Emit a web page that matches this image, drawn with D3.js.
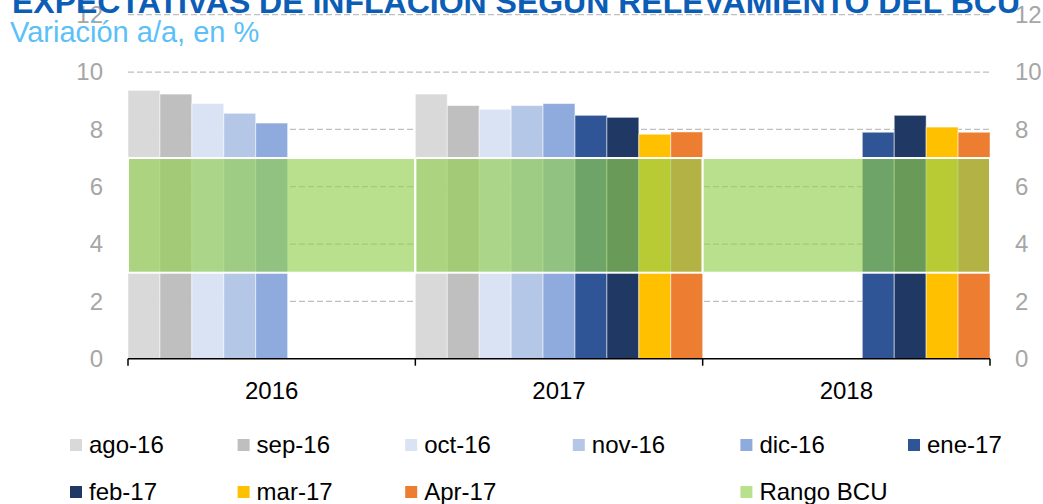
<!DOCTYPE html>
<html>
<head>
<meta charset="utf-8">
<script src="https://cdn.jsdelivr.net/npm/d3@7"></script>
<style>
  body { margin: 0; background: #fff; }
  svg { display: block; font-family: "Liberation Sans", Arial, sans-serif; }
</style>
</head>
<body>
<div id="chart"></div>
<script>
// data
const years = ["2016", "2017", "2018"];
const series = ["ago-16", "sep-16", "oct-16", "nov-16", "dic-16", "ene-17", "feb-17", "mar-17", "Apr-17"];
const values2016 = [9.36, 9.23, 8.90, 8.56, 8.22, null, null, null, null];
const values2017 = [9.23, 8.83, 8.70, 8.83, 8.90, 8.49, 8.42, 7.83, 7.91];
const values2018 = [null, null, null, null, null, 7.90, 8.49, 8.08, 7.90];
const rangoBCU = [3, 7];
const yTicks = [0, 2, 4, 6, 8, 10, 12];

const colors = ["#D9D9D9", "#BFBFBF", "#DAE3F3", "#B4C7E7", "#8FAADC", "#2F5597", "#1F3864", "#FFC000", "#ED7D31"];
const bandColor = "#92D050";

const width = 1043, height = 504;
const margin = { left: 128, right: 53, top: 14.7, bottom: 145.3 };

const svg = d3.select("#chart").append("svg")
  .attr("width", width)
  .attr("height", height);

const x = d3.scaleBand()
  .domain(years)
  .range([margin.left, width - margin.right])
  .padding(0);

const xInner = d3.scaleBand()
  .domain(series)
  .range([0, x.bandwidth()])
  .padding(0);

const y = d3.scaleLinear()
  .domain([0, 12])
  .range([height - margin.bottom, margin.top]);

// gridlines
svg.append("g")
  .selectAll("line")
  .data(yTicks.filter(d => d > 0))
  .join("line")
  .attr("x1", margin.left)
  .attr("x2", width - margin.right)
  .attr("y1", d => y(d))
  .attr("y2", d => y(d))
  .attr("stroke", "#BFBFBF")
  .attr("stroke-width", 1.3)
  .attr("stroke-dasharray", "6,3");

// bars
const rows = [values2016, values2017, values2018];
const barData = [];
years.forEach((yr, gi) => {
  series.forEach((s, si) => {
    if (rows[gi][si] != null) barData.push({ year: yr, series: s, i: si, value: rows[gi][si] });
  });
});

svg.append("g")
  .selectAll("rect")
  .data(barData)
  .join("rect")
  .attr("x", d => x(d.year) + xInner(d.series))
  .attr("y", d => y(d.value))
  .attr("width", xInner.bandwidth())
  .attr("height", d => y(0) - y(d.value))
  .attr("fill", d => colors[d.i])
  .attr("stroke", "#fff")
  .attr("stroke-opacity", 0.5)
  .attr("stroke-width", 1);

// Rango BCU band, drawn over the bars
svg.append("g")
  .selectAll("rect")
  .data(years)
  .join("rect")
  .attr("x", d => x(d))
  .attr("y", y(rangoBCU[1]))
  .attr("width", x.bandwidth())
  .attr("height", y(rangoBCU[0]) - y(rangoBCU[1]))
  .attr("fill", bandColor)
  .attr("fill-opacity", 0.65)
  .attr("stroke", "#fff")
  .attr("stroke-width", 2);

// x axis
const xAxis = svg.append("g")
  .attr("transform", `translate(0,${y(0)})`)
  .call(d3.axisBottom(x).tickSize(0).tickPadding(23));
xAxis.select(".domain").remove();
xAxis.selectAll("text")
  .attr("font-size", 24)
  .attr("font-family", "Liberation Sans, Arial, sans-serif")
  .attr("fill", "#000");

const xEdges = years.map(d => x(d)).concat([x.range()[1]]);
xAxis.append("line")
  .attr("x1", margin.left)
  .attr("x2", width - margin.right)
  .attr("stroke", "#000")
  .attr("stroke-width", 1.5);
xAxis.selectAll(".edge")
  .data(xEdges)
  .join("line")
  .attr("class", "edge")
  .attr("x1", d => d)
  .attr("x2", d => d)
  .attr("y1", 0)
  .attr("y2", 7)
  .attr("stroke", "#000")
  .attr("stroke-width", 1.5);

// left and right y axes
const yLeft = svg.append("g")
  .attr("transform", "translate(103,0)")
  .call(d3.axisLeft(y).tickValues(yTicks).tickSize(0).tickPadding(0));
yLeft.select(".domain").remove();

const yRight = svg.append("g")
  .attr("transform", "translate(1015,0)")
  .call(d3.axisRight(y).tickValues(yTicks).tickSize(0).tickPadding(0));
yRight.select(".domain").remove();

[yLeft, yRight].forEach(g => g.selectAll("text")
  .attr("font-size", 24)
  .attr("font-family", "Liberation Sans, Arial, sans-serif")
  .attr("fill", "#A6A6A6"));

// title + subtitle
svg.append("text")
  .attr("x", 12)
  .attr("y", 13)
  .attr("font-size", 31)
  .attr("font-weight", "bold")
  .attr("fill", "#0B5DB5")
  .attr("textLength", 1008)
  .attr("lengthAdjust", "spacingAndGlyphs")
  .text("EXPECTATIVAS DE INFLACIÓN SEGÚN RELEVAMIENTO DEL BCU");

svg.append("text")
  .attr("x", 10)
  .attr("y", 42)
  .attr("font-size", 29)
  .attr("fill", "#5BC0F8")
  .text("Variación a/a, en %");

// legend
const legendItems = series.map((s, i) => ({ label: s, color: colors[i], col: i % 6, row: Math.floor(i / 6) }))
  .concat([{ label: "Rango BCU", color: "#B8E08D", col: 4, row: 1 }]);

const legend = svg.append("g")
  .selectAll("g")
  .data(legendItems)
  .join("g")
  .attr("transform", d => `translate(${70 + d.col * 167.6},${445 + d.row * 47})`);

legend.append("rect")
  .attr("x", 0)
  .attr("y", -6)
  .attr("width", 12)
  .attr("height", 12)
  .attr("fill", d => d.color);

legend.append("text")
  .attr("x", 19)
  .attr("y", 0)
  .attr("dy", "0.35em")
  .attr("font-size", 24)
  .attr("fill", "#000")
  .text(d => d.label);
</script>
</body>
</html>
